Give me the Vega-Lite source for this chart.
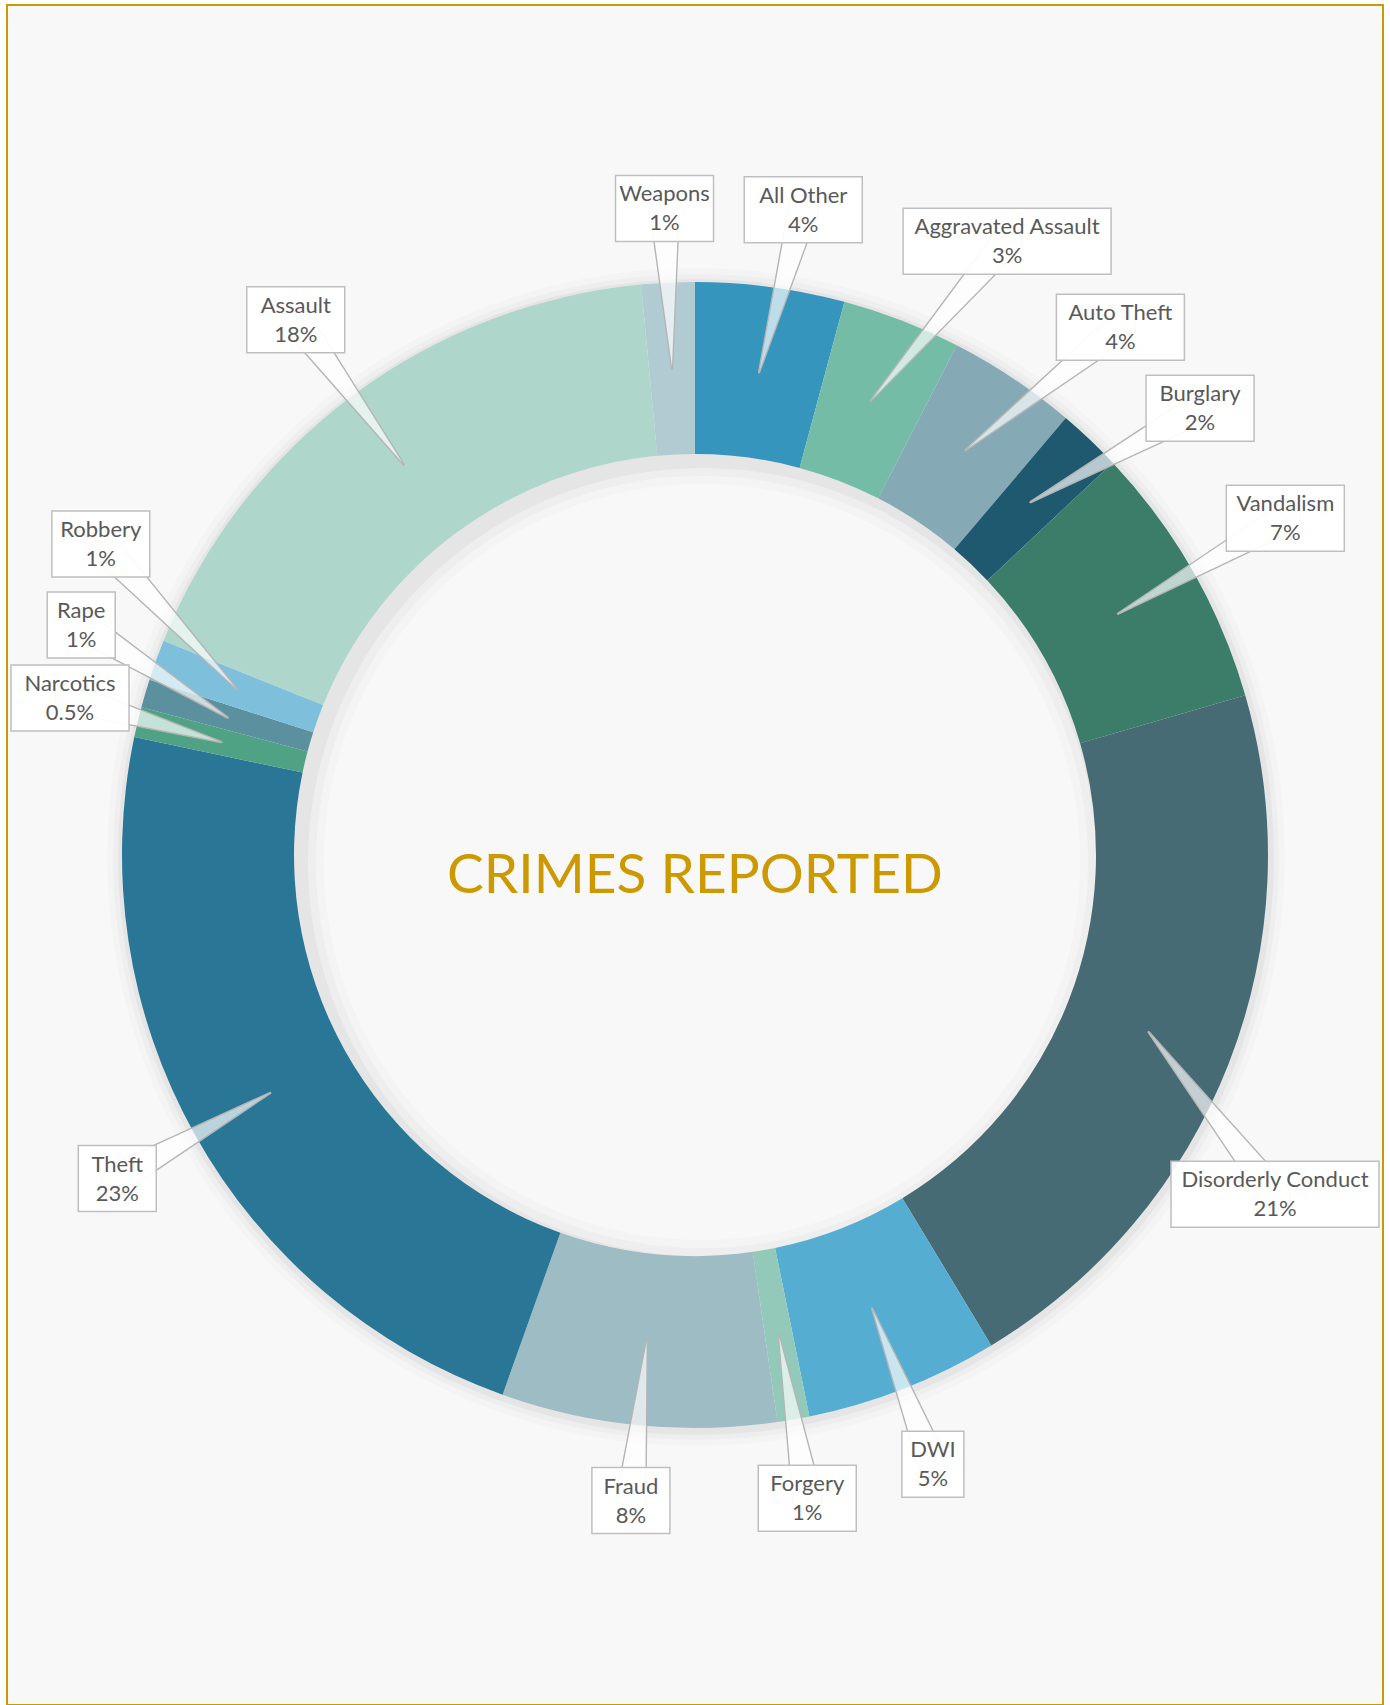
{
  "$schema": "https://vega.github.io/schema/vega-lite/v6.json",
  "width": 1376,
  "height": 1700,
  "autosize": "none",
  "padding": {"left": 7, "top": 5, "right": 7, "bottom": 0},
  "background": "#ffffff",
  "config": {"view": {"fill": "#f8f8f8", "stroke": "#cc9900", "strokeWidth": 2}},
  "data": {"values": [
    {"idx": 1, "name": "All Other", "value": 4.2, "pct": "4%"},
    {"idx": 2, "name": "Aggravated Assault", "value": 3.35, "pct": "3%"},
    {"idx": 3, "name": "Auto Theft", "value": 3.65, "pct": "4%"},
    {"idx": 4, "name": "Burglary", "value": 1.8, "pct": "2%"},
    {"idx": 5, "name": "Vandalism", "value": 7.5, "pct": "7%"},
    {"idx": 6, "name": "Disorderly Conduct", "value": 20.85, "pct": "21%"},
    {"idx": 7, "name": "DWI", "value": 5.45, "pct": "5%"},
    {"idx": 8, "name": "Forgery", "value": 0.9, "pct": "1%"},
    {"idx": 9, "name": "Fraud", "value": 7.75, "pct": "8%"},
    {"idx": 10, "name": "Theft", "value": 22.85, "pct": "23%"},
    {"idx": 11, "name": "Narcotics", "value": 0.85, "pct": "0.5%"},
    {"idx": 12, "name": "Rape", "value": 0.8, "pct": "1%"},
    {"idx": 13, "name": "Robbery", "value": 1.15, "pct": "1%"},
    {"idx": 14, "name": "Assault", "value": 17.4, "pct": "18%"},
    {"idx": 15, "name": "Weapons", "value": 1.5, "pct": "1%"}
  ]},
  "transform": [
    {"joinaggregate": [{"op": "sum", "field": "value", "as": "total"}]},
    {"window": [{"op": "sum", "field": "value", "as": "cum"}], "sort": [{"field": "idx"}]},
    {"calculate": "(datum.cum - datum.value/2)/datum.total*360", "as": "midDeg"},
    {"calculate": "datum.midDeg*PI/180", "as": "th"},
    {"calculate": "max(max(length(datum.name), length(datum.pct))*10 + 28, 62)", "as": "w"},
    {"calculate": "(datum.midDeg + 60) % 360", "as": "key"},
    {"calculate": "612 + datum.w/2*abs(sin(datum.th)) + 33*abs(cos(datum.th))", "as": "rc"},
    {"window": [{"op": "lag", "field": "w", "as": "pw"}], "sort": [{"field": "key"}]},
    {"calculate": "isValid(datum.pw) ? min(((datum.pw + datum.w)/2 + 30)/max(abs(cos(datum.th)), 0.01), 78/max(abs(sin(datum.th)), 0.01))/datum.rc*180/PI : 0", "as": "gap"},
    {"window": [{"op": "sum", "field": "gap", "as": "G"}], "sort": [{"field": "key"}]},
    {"calculate": "datum.key - datum.G", "as": "z"},
    {"window": [{"op": "max", "field": "z", "as": "M"}], "sort": [{"field": "key"}]},
    {"calculate": "(datum.M + datum.G - 60)*PI/180", "as": "th2"},
    {"calculate": "612 + datum.w/2*abs(sin(datum.th2)) + 33*abs(cos(datum.th2))", "as": "rc2"},
    {"calculate": "datum.rc2*sin(datum.th2)", "as": "cx0"},
    {"calculate": "datum.rc2*cos(datum.th2)", "as": "cy0"},
    {"calculate": "clamp(datum.cx0, datum.w/2 - 684, 684 - datum.w/2)", "as": "cx"},
    {"calculate": "abs(datum.cx) - datum.w/2", "as": "ex"},
    {"calculate": "(abs(datum.cx) < abs(datum.cx0) - 0.5 && datum.ex < 566) ? (datum.cy0 < 0 ? -1 : 1)*max(abs(datum.cy0), 33 + sqrt(566*566 - datum.ex*datum.ex)) : datum.cy0", "as": "cy"},
    {"calculate": "datum.cx - datum.w/2", "as": "bx1"},
    {"calculate": "datum.cx + datum.w/2", "as": "bx2"},
    {"calculate": "datum.cy - 33", "as": "by1"},
    {"calculate": "datum.cy + 33", "as": "by2"},
    {"calculate": "487*sin(datum.th)", "as": "tx"},
    {"calculate": "487*cos(datum.th)", "as": "ty"},
    {"calculate": "datum.name + '\\n' + datum.pct", "as": "label"}
  ],
  "layer": [
    {
      "transform": [{"aggregate": [{"op": "sum", "field": "value", "as": "all"}]}],
      "encoding": {"theta": {"field": "all", "type": "quantitative"}},
      "layer": [
        {"mark": {"type": "arc", "radius": 578, "radius2": 560, "fill": "#000000", "fillOpacity": 0.035, "xOffset": 1, "yOffset": 2}},
        {"mark": {"type": "arc", "radius": 583, "radius2": 560, "fill": "#000000", "fillOpacity": 0.025, "xOffset": 1, "yOffset": 2}},
        {"mark": {"type": "arc", "radius": 589, "radius2": 560, "fill": "#000000", "fillOpacity": 0.015, "xOffset": 1, "yOffset": 2}},
        {"mark": {"type": "arc", "radius": 425, "radius2": 394, "fill": "#000000", "fillOpacity": 0.035, "xOffset": 7, "yOffset": 7}},
        {"mark": {"type": "arc", "radius": 425, "radius2": 386, "fill": "#000000", "fillOpacity": 0.025, "xOffset": 7, "yOffset": 7}},
        {"mark": {"type": "arc", "radius": 425, "radius2": 378, "fill": "#000000", "fillOpacity": 0.015, "xOffset": 7, "yOffset": 7}}
      ]
    },
    {
      "mark": {"type": "arc", "radius": 573, "radius2": 401},
      "encoding": {
        "theta": {"field": "value", "type": "quantitative", "stack": true},
        "order": {"field": "idx", "type": "quantitative"},
        "color": {
          "field": "name", "type": "nominal", "legend": null,
          "scale": {
            "domain": ["All Other", "Aggravated Assault", "Auto Theft", "Burglary", "Vandalism", "Disorderly Conduct", "DWI", "Forgery", "Fraud", "Theft", "Narcotics", "Rape", "Robbery", "Assault", "Weapons"],
            "range": ["#3595bd", "#74bca6", "#85aab5", "#1f596f", "#3c7d69", "#466b74", "#55add1", "#92c9b8", "#9dbcc3", "#2a7696", "#4fa384", "#5b919f", "#7ec0db", "#aed6cb", "#b1cbd2"]
          }
        }
      }
    },
    {
      "transform": [
        {"calculate": "[0, 1]", "as": "ends"},
        {"flatten": ["ends"]},
        {"calculate": "datum.ends == 0 ? datum.cx : datum.tx", "as": "px"},
        {"calculate": "datum.ends == 0 ? datum.cy : datum.ty", "as": "py"},
        {"calculate": "datum.ends == 0 ? 30 : 0", "as": "sz"}
      ],
      "mark": {"type": "trail", "fill": "#ffffff", "fillOpacity": 0.68, "stroke": "#b5b5b5", "strokeWidth": 1.4},
      "encoding": {
        "x": {"field": "px", "type": "quantitative", "scale": {"domain": [-688, 688], "nice": false, "zero": false}, "axis": null},
        "y": {"field": "py", "type": "quantitative", "scale": {"domain": [-850, 850], "nice": false, "zero": false}, "axis": null},
        "size": {"field": "sz", "type": "quantitative", "scale": null, "legend": null},
        "detail": {"field": "name", "type": "nominal"},
        "order": {"field": "ends", "type": "quantitative"}
      }
    },
    {
      "mark": {"type": "rect", "fill": "#ffffff", "fillOpacity": 0.93, "stroke": "#bfbfbf", "strokeWidth": 1.5},
      "encoding": {
        "x": {"field": "bx1", "type": "quantitative", "scale": {"domain": [-688, 688], "nice": false, "zero": false}, "axis": null},
        "x2": {"field": "bx2"},
        "y": {"field": "by1", "type": "quantitative", "scale": {"domain": [-850, 850], "nice": false, "zero": false}, "axis": null},
        "y2": {"field": "by2"}
      }
    },
    {
      "mark": {"type": "text", "font": "Lato", "fontSize": 22, "color": "#595959", "align": "center", "baseline": "middle", "lineBreak": "\n", "lineHeight": 29, "dy": -14},
      "encoding": {
        "x": {"field": "cx", "type": "quantitative", "scale": {"domain": [-688, 688], "nice": false, "zero": false}, "axis": null},
        "y": {"field": "cy", "type": "quantitative", "scale": {"domain": [-850, 850], "nice": false, "zero": false}, "axis": null},
        "text": {"field": "label", "type": "nominal"}
      }
    },
    {
      "transform": [{"aggregate": [{"op": "count", "as": "n"}]}],
      "mark": {"type": "text", "font": "Lato", "fontSize": 55, "color": "#cc9900", "align": "center", "baseline": "middle", "dy": 21},
      "encoding": {"text": {"value": "CRIMES REPORTED"}}
    }
  ]
}
